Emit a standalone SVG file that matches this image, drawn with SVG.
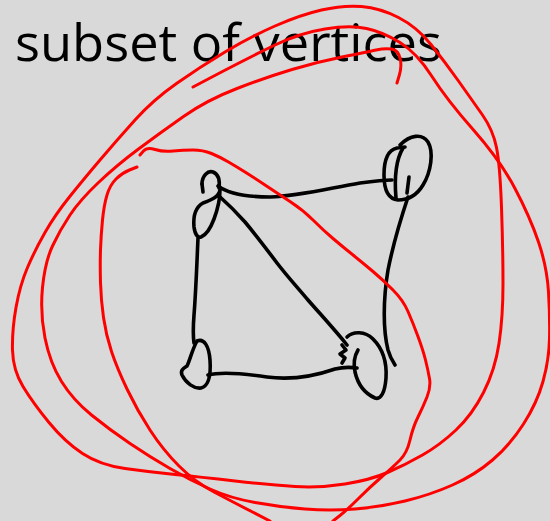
<svg xmlns="http://www.w3.org/2000/svg" width="550" height="521" viewBox="0 0 550 521">
<style>
.ink{fill:none;stroke:#000;stroke-width:3.6;stroke-linecap:round;stroke-linejoin:round}
.red{fill:none;stroke:#ff0000;stroke-width:3;stroke-linecap:round;stroke-linejoin:round}
.title{font-family:"Open Sans","Liberation Sans",sans-serif;font-size:52px;fill:#000}
</style>
<rect width="550" height="521" fill="#d9d9d9"/>
<text class="title" x="15" y="61" textLength="427" lengthAdjust="spacingAndGlyphs">subset of vertices</text>
<g id="connectors">
<path class="ink" d="M218,186 C230,195 250,197 270,197 C300,196 330,188 360,183 C375,181 385,180 392,180"/>
<path class="ink" d="M408,197 C402,215 394,240 388,270 C383,300 383,330 388,350 C390,357 393,362 395,365"/>
<path class="ink" d="M219,196 C228,204 237,213 245,222 C255,234 262,243 277,263 C287,276 297,287 308,300 C322,316 335,330 347,345"/>
<path class="ink" d="M208,375 C220,372 240,373 267,377 C290,380 315,376 335,369 C343,367 350,367 357,368"/>
<path class="ink" d="M198,238 C197,260 196,290 194,315 C193,328 193,336 194,343"/>
</g>
<g id="node-tl">
<path class="ink" d="M202,184 C202,176 208,170 213,172 C218,174 220,180 219,188"/>
<path class="ink" d="M202,184 L203,192"/>
<path class="ink" d="M220,190 C219,197 211,200 203,203 C196,207 193,216 194,227 C195,235 198,238 201,237 C206,235 211,227 214,219 C217,211 220,200 220,190"/>
</g>
<g id="node-tr">
<path class="ink" d="M400,145 C410,135 422,133 428,142 C434,152 431,172 423,185 C417,195 408,200 398,200 C388,199 384,190 384,175 C384,160 388,150 397,148 L405,147"/>
<path class="ink" d="M403,148 C397,158 394,175 396,198"/>
<path class="ink" d="M409,177 L407,193"/>
</g>
<g id="node-br">
<path class="ink" d="M347,337 C353,331 365,331 373,339 C382,348 387,362 386,378 C385,392 381,400 375,398 C366,394 358,385 355,372 C353,362 355,355 358,350"/>
<path class="ink" d="M342,345 L346,350 L340,354 L345,358 L342,363"/>
</g>
<g id="node-bl">
<path class="ink" d="M197,341 C204,338 209,346 210,360 C211,375 209,386 201,388 C194,389 186,383 182,375 C180,370 184,368 187,366 C190,360 192,350 197,341 Z"/>
</g>
<g id="red-strokes">
<path class="red" d="M12.5,350 Q12,330 16,307.5 Q20,285 27.5,267.5 Q35,250 45,232.5 Q55,215 69,197.5 Q83,180 100,160 Q117,140 135,120 Q153,100 176.5,83.5 Q200,67 225,52 Q250,37 275,26 Q300,15 321.5,10 Q343,5 361.5,6.5 Q380,8 398.5,17.5 Q417,27 431,44.5 Q445,62 458.5,81 Q472,100 482.5,115 Q493,130 496.5,147.5 Q500,165 501.5,207.5 Q503,250 503,283.5 Q503,317 499,343.5 Q495,370 483.5,392.5 Q472,415 456,430 Q440,445 422.5,455 Q405,465 387.5,472.5 Q370,480 345,484 Q320,488 295,486.5 Q270,485 235,481 Q200,477 175,474.5 Q150,472 125,468.5 Q100,465 82.5,453.5 Q65,442 49,422.5 Q33,403 23,386.5 Q13,370 12.5,350 Z"/>
<path class="red" d="M397,83 L399.5,74.5 Q402,66 400,58 Q398,50 391.5,49 Q385,48 376,50 Q367,52 342,57 Q317,62 292,69.5 Q267,77 237,88.5 Q207,100 183.5,116.5 Q160,133 138.5,149 Q117,165 98.5,182.5 Q80,200 70,215 Q60,230 52.5,246 Q45,262 42.5,287.5 Q40,313 45,338 Q50,363 61.5,381.5 Q73,400 91.5,415 Q110,430 130,443.5 Q150,457 170,468.5 Q190,480 210,489 Q230,498 255,502.5 Q280,507 305,509 Q330,511 355,509 Q380,507 405,501 Q430,495 452.5,485 Q475,475 492.5,460 Q510,445 523.5,424 Q537,403 543,381.5 Q549,360 549.5,338.5 Q550,317 548.5,292 Q547,267 538.5,242 Q530,217 515,188.5 Q500,160 473.5,130 Q447,100 432,76.5 Q417,53 400,42.5 Q383,32 366.5,28.5 Q350,25 325,29 Q300,33 275,45 Q250,57 221.5,72 L193,87"/>
<path class="red" d="M140,155 L143.5,151 Q147,147 155,149.5 Q163,152 173,151 Q183,150 193,150 Q203,150 211.5,153.5 Q220,157 228.5,162 Q237,167 245,172 Q253,177 265,185 Q277,193 290,201.5 Q303,210 313,220 Q323,230 333,238.5 Q343,247 353,255 Q363,263 373,271.5 Q383,280 393,290 Q403,300 408,311.5 Q413,323 418,336.5 Q423,350 425.5,360 Q428,370 429.5,378.5 Q431,387 427,397 Q423,407 418,417 Q413,427 410,440 Q407,453 400,460 Q393,467 381.5,477 Q370,487 358.5,498.5 Q347,510 340,515.5 L333,521"/>
<path class="red" d="M137,167 L129.5,170 Q122,173 116,179 Q110,185 107,195 Q104,205 102.5,220 Q101,235 100.5,250 Q100,265 100.5,282.5 Q101,300 103.5,317.5 Q106,335 111.5,351.5 Q117,368 127,389 Q137,410 150,430 Q163,450 179,466 Q195,482 214,492 Q233,502 251.5,511.5 L270,521"/>
</g>
</svg>
